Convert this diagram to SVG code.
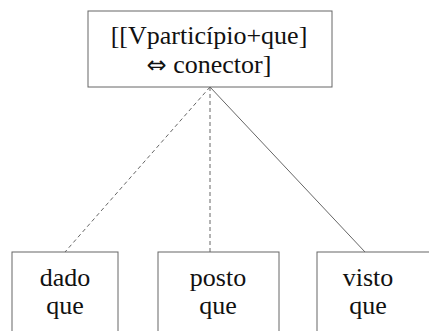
<svg xmlns="http://www.w3.org/2000/svg" width="429" height="331" viewBox="0 0 429 331">
<style>
.box{fill:#fff;stroke:#666;stroke-width:1}
.c{stroke:#666;stroke-width:1;fill:none}
.d{stroke-dasharray:4,3}
.arr{font-family:'DejaVu Sans',sans-serif;font-size:24px}
</style>
<rect width="429" height="331" fill="#fff"/>
<g id="connectors">
<line class="c d" x1="210" y1="87" x2="65" y2="252"/>
<line class="c d" x1="210" y1="87" x2="210" y2="252"/>
<line class="c" x1="210" y1="87" x2="365" y2="252"/>
</g>
<g font-family="Liberation Serif, DejaVu Serif, serif" font-size="26" fill="#111" text-anchor="middle">
<g id="root">
<rect class="box" x="88" y="11" width="244" height="76"/>
<text x="209" y="44">[[Vparticípio+que]</text>
<text x="209" y="73"><tspan class="arr">⇔</tspan> conector]</text>
</g>
<g id="dado">
<rect class="box" x="12" y="252" width="106" height="90"/>
<text x="65" y="286">dado</text>
<text x="65" y="314">que</text>
</g>
<g id="posto">
<rect class="box" x="158" y="252" width="121" height="90"/>
<text x="218" y="286">posto</text>
<text x="218" y="314">que</text>
</g>
<g id="visto">
<rect class="box" x="317" y="252" width="130" height="90"/>
<text x="368" y="286">visto</text>
<text x="368" y="314">que</text>
</g>
</g>
</svg>
